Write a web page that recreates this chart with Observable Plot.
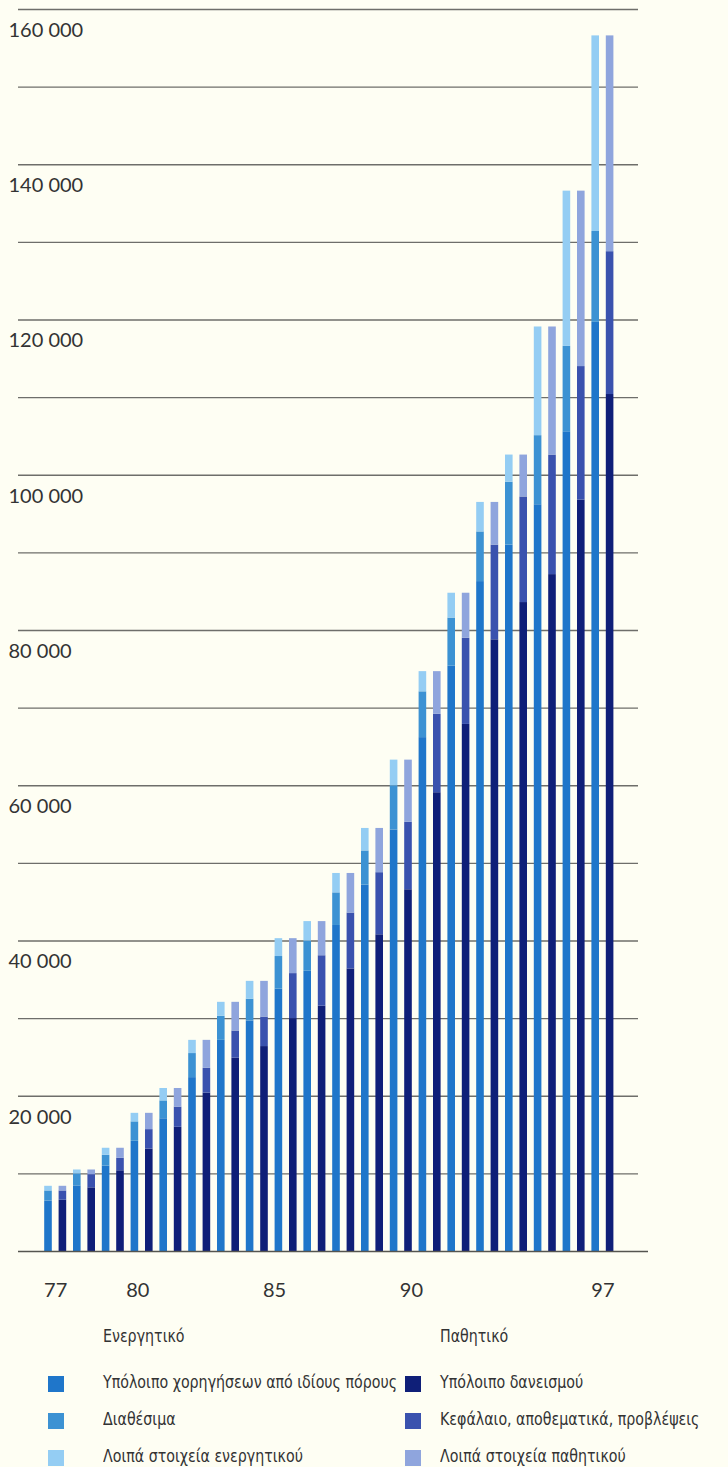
<!DOCTYPE html>
<html>
<head>
<meta charset="utf-8">
<script src="https://cdn.jsdelivr.net/npm/d3@7"></script>
<script src="https://cdn.jsdelivr.net/npm/@observablehq/plot@0.6"></script>
<style>
  html, body { margin: 0; padding: 0; background: #fefef3; }
  #wrap { position: relative; width: 728px; height: 1467px; overflow: hidden; background: #fefef3; }
  #chart { position: absolute; left: 0; top: 0; }
  .lg { position: absolute; font-family: "DejaVu Sans", sans-serif; font-size: 18px; color: #333; white-space: nowrap; line-height: 20px; transform-origin: 0 50%; }
  .sw { position: absolute; width: 16px; height: 16px; }
</style>
</head>
<body>
<div id="wrap">
  <div id="chart"></div>
  <div id="legend"></div>
</div>
<script>
// ---- data ----
const tickYears = [77, 80, 85, 90, 97];
const yLabelTicks = [20000, 40000, 60000, 80000, 100000, 120000, 140000, 160000];
const gridValues = [10000, 20000, 30000, 40000, 50000, 60000, 70000, 80000, 90000, 100000, 110000, 120000, 130000, 140000, 150000, 160000];

// Ενεργητικό (assets)
const loans       = [6500, 8450, 11000, 14200, 17100, 22400, 27200, 29700, 33800, 36100, 42000, 47200, 54300, 66200, 75400, 86300, 91000, 96200, 105600, 119700];
const cash        = [1300, 1550, 1400, 2500, 2300, 3100, 3100, 2800, 4200, 3900, 4200, 4400, 5700, 5900, 6200, 6400, 8100, 8900, 11000, 11700];
const otherAssets = [600, 500, 900, 1100, 1600, 1700, 1800, 2300, 2300, 2500, 2500, 2900, 3300, 2600, 3200, 3800, 3500, 14000, 20000, 25200];
// Παθητικό (liabilities)
const borrowing   = [6600, 8200, 10400, 13200, 16000, 20400, 24900, 26400, 30000, 31600, 36400, 40800, 46600, 59100, 67900, 78800, 83600, 87200, 96800, 110400];
const capital     = [1200, 1700, 1600, 2500, 2600, 3200, 3500, 3800, 5800, 6500, 7200, 8000, 8700, 10100, 11100, 12200, 13600, 15400, 17200, 18400];
const otherLiab   = [600, 600, 1300, 2100, 2400, 3600, 3700, 4600, 4500, 4400, 5100, 5700, 8000, 5500, 5800, 5500, 5400, 16500, 22600, 27800];

const assetNames = ["Υπόλοιπο χορηγήσεων από ιδίους πόρους", "Διαθέσιμα", "Λοιπά στοιχεία ενεργητικού"];
const liabNames  = ["Υπόλοιπο δανεισμού", "Κεφάλαιο, αποθεματικά, προβλέψεις", "Λοιπά στοιχεία παθητικού"];
const assetColors = ["#1f76ca", "#3c92d3", "#94cdf3"];
const liabColors  = ["#0f1f78", "#3a52ae", "#8fa5dd"];

// ---- layout helpers ----
const n = loans.length;
const firstYear = tickYears[0], lastYear = tickYears[tickYears.length - 1];
const xPx0 = 55.2, xPx1 = 602.4;                 // pixel centres of first / last pair
const pxPerYear = (xPx1 - xPx0) / (lastYear - firstYear);
const off = 7.2 / pxPerYear, half = 3.8 / pxPerYear;
const pairPos = d3.range(n).map(i => firstYear + i * (lastYear - firstYear) / (n - 1));

const rows = [];
function addStack(i, side, vals, names) {
  let acc = 0;
  vals.forEach((v, k) => {
    const c = pairPos[i] + (side === "A" ? -off : off);
    rows.push({x1: c - half, x2: c + half, y1: acc, y2: acc + v, cat: names[k]});
    acc += v;
  });
}
for (let i = 0; i < n; i++) {
  addStack(i, "A", [loans[i], cash[i], otherAssets[i]], assetNames);
  addStack(i, "L", [borrowing[i], capital[i], otherLiab[i]], liabNames);
}

const fmt = d => d3.format(",")(d).replace(/,/g, " ");
const baseRight = lastYear + (648 - xPx1) / pxPerYear;
const baseLeft = firstYear - (xPx0 - 18) / pxPerYear;

const chart = Plot.plot({
  width: 728,
  height: 1310,
  marginTop: 9,
  marginBottom: 59,
  marginLeft: 18,
  marginRight: 90,
  style: {background: "transparent"},
  x: {type: "linear", domain: [firstYear, lastYear], range: [xPx0, xPx1], axis: null},
  y: {domain: [0, 160000], axis: null},
  color: {domain: [...assetNames, ...liabNames], range: [...assetColors, ...liabColors]},
  marks: [
    Plot.ruleY(gridValues, {stroke: "#6e6e6a", strokeWidth: 1.3}),
    Plot.rectY(rows, {x1: "x1", x2: "x2", y1: "y1", y2: "y2", fill: "cat"}),
    Plot.ruleY([0], {x1: baseLeft, x2: baseRight, stroke: "#55554f", strokeWidth: 1.4}),
    Plot.text(yLabelTicks, {y: d => d, text: fmt, frameAnchor: "left", dx: -10, dy: 21, textAnchor: "start",
      fontSize: 20, fill: "#333", fontFamily: "Lato, 'Open Sans', sans-serif"}),
    Plot.text(tickYears, {x: d => d, y: 0, dy: 39, text: d => String(d),
      fontSize: 20, fill: "#333", fontFamily: "Lato, 'Open Sans', sans-serif"})
  ]
});
document.getElementById("chart").appendChild(chart);

// ---- legend ----
const legend = document.getElementById("legend");
const texts = [];
function addText(txt, left, cy) {
  const d = document.createElement("div");
  d.className = "lg"; d.textContent = txt;
  d.style.left = left + "px"; d.style.top = (cy - 10) + "px";
  legend.appendChild(d);
  texts.push(d);
  return d;
}
function addSwatch(color, left, cy) {
  const d = document.createElement("div");
  d.className = "sw"; d.style.background = color;
  d.style.left = left + "px"; d.style.top = (cy - 8) + "px";
  legend.appendChild(d);
}
addText("Ενεργητικό", 103, 1336);
addText("Παθητικό", 440, 1336);
const rowY = [1382, 1419, 1456];
let ref;
assetNames.forEach((nm, k) => { addSwatch(assetColors[k], 48, rowY[k] + 2); const t = addText(nm, 103, rowY[k]); if (k === 0) ref = t; });
liabNames.forEach((nm, k) => { addSwatch(liabColors[k], 405, rowY[k] + 2); addText(nm, 440, rowY[k]); });
// condense legend lettering so the longest asset label spans the same width as in the reference
const sx = 294 / ref.getBoundingClientRect().width;
texts.forEach(t => { t.style.transform = `scaleX(${sx})`; });
</script>
</body>
</html>
